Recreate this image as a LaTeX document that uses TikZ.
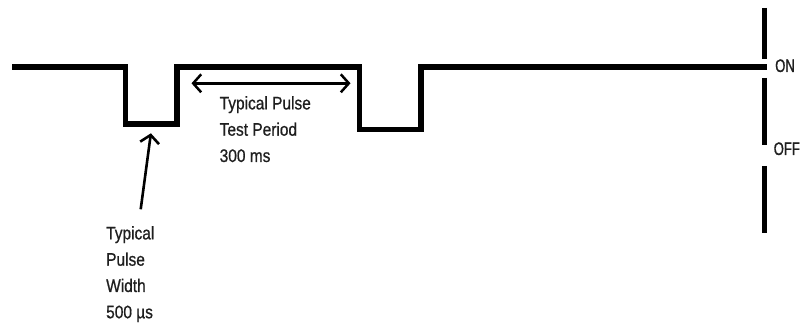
\documentclass[tikz,border=0pt]{standalone}
\usepackage{fontspec}
\setmainfont[FakeStretch=0.85,FakeBold=0.8]{Liberation Sans}
\newfontfamily\narrowfont[FakeStretch=0.72,FakeBold=0.8]{Liberation Sans}
\usetikzlibrary{arrows.meta}
\begin{document}
\begin{tikzpicture}[x=1pt,y=-1pt,
  wave/.style={line width=5.5pt,line join=miter,line cap=butt},
  bar/.style={line width=5.5pt,line cap=butt},
  dim/.style={line width=2.5pt,{Straight Barb[length=8pt,width=18pt]}-{Straight Barb[length=8pt,width=18pt]}},
  pointer/.style={line width=2.6pt,-{Straight Barb[length=8pt,width=19pt]}},
  lbl/.style={font=\fontsize{18.2}{26.3}\selectfont,text=black!88,inner sep=0pt,anchor=base west,align=left},
  state/.style={font=\fontsize{18.2}{22}\selectfont\narrowfont,text=black!88,inner sep=0pt,anchor=base west}]
\useasboundingbox (0,0) rectangle (801,328);
% waveform corners
\coordinate (w0) at (12,67);
\coordinate (w1) at (125.5,67);
\coordinate (w2) at (125.5,124);
\coordinate (w3) at (177,124);
\coordinate (w4) at (177,67);
\coordinate (w5) at (359.7,67);
\coordinate (w6) at (359.7,129.5);
\coordinate (w7) at (421,129.5);
\coordinate (w8) at (421,67);
\coordinate (w9) at (767,67);
\draw[wave] (w0) -- (w1) -- (w2) -- (w3) -- (w4) -- (w5) -- (w6) -- (w7) -- (w8) -- (w9);
% ON/OFF bar
\coordinate (b1a) at (764.5,8);   \coordinate (b1b) at (764.5,59);
\coordinate (b2a) at (764.5,78);  \coordinate (b2b) at (764.5,145);
\coordinate (b3a) at (764.5,166); \coordinate (b3b) at (764.5,233);
\draw[bar] (b1a) -- (b1b);
\draw[bar] (b2a) -- (b2b);
\draw[bar] (b3a) -- (b3b);
\node[state] (on) at (775,72) {ON};
\node[state] (off) at (773.5,155) {OFF};
% period arrow
\coordinate (pa) at (191.5,83.3);
\coordinate (pb) at (350.5,83.3);
\draw[dim] (pa) -- (pb);
\node[lbl] (period) at (219.5,162) {Typical Pulse\\Test Period\\300 ms};
% width pointer
\coordinate (pt) at (140.7,209.3);
\coordinate (ph) at (150.9,133.3);
\draw[pointer] (pt) -- (ph);
\node[lbl] (width) at (106,318.3) {Typical\\Pulse\\Width\\500 µs};
\end{tikzpicture}
\end{document}
